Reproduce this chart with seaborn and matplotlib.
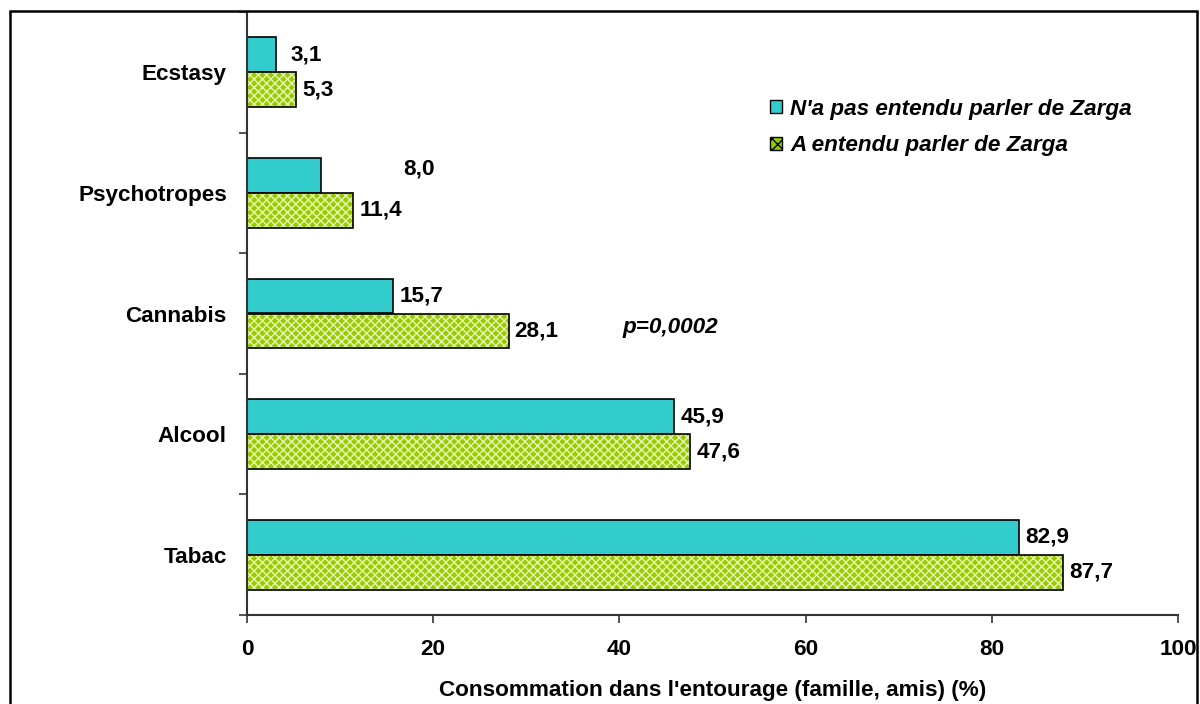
import matplotlib
matplotlib.use("Agg")
import matplotlib.pyplot as plt
from matplotlib.patches import Rectangle
from matplotlib.ticker import FixedLocator, NullFormatter
import seaborn as sns
import pandas as pd

# Substances, top to bottom
substances = ["Ecstasy", "Psychotropes", "Cannabis", "Alcool", "Tabac"]
# Share (%) of people with use in their circle, by group
not_heard = [3.1, 8.0, 15.7, 45.9, 82.9]
heard = [5.3, 11.4, 28.1, 47.6, 87.7]
group_names = ["N'a pas entendu parler de Zarga", "A entendu parler de Zarga"]
xticks = [0, 20, 40, 60, 80, 100]
x_label = "Consommation dans l'entourage (famille, amis) (%)"
p_text = "p=0,0002"

df = pd.DataFrame({
    "substance": substances * 2,
    "value": not_heard + heard,
    "group": [group_names[0]] * len(substances) + [group_names[1]] * len(substances),
})

sns.set_style("white")
plt.rcParams["font.family"] = ["Liberation Sans", "DejaVu Sans"]
plt.rcParams["font.weight"] = "bold"
plt.rcParams["text.color"] = "black"
plt.rcParams["xtick.color"] = "black"
plt.rcParams["ytick.color"] = "black"
plt.rcParams["axes.labelcolor"] = "black"

TEAL = "#33CCCC"
GREEN = "#99CC00"
SPINE = "#333333"
FS = 16.2

fig = plt.figure(figsize=(12, 7.04), dpi=100)
ax = fig.add_axes([247 / 1200, 1 - 615 / 704, (1178 - 247) / 1200, (615 - 12) / 704])

sns.barplot(
    data=df, y="substance", x="value", hue="group", order=substances,
    hue_order=group_names, palette=[TEAL, GREEN], orient="h",
    width=0.58, gap=0, edgecolor="black", linewidth=1.2, saturation=1,
    legend=False, ax=ax,
)

# green bars: light crosshatch pattern inside a black outline
for bar in ax.containers[1]:
    bar.set_hatch("xxxx")
    bar.set_edgecolor("#E8F6B8")
    bar.set_linewidth(0)
    ax.add_patch(Rectangle(bar.get_xy(), bar.get_width(), bar.get_height(),
                           fill=False, edgecolor="black", linewidth=1.2, zorder=bar.get_zorder() + 0.1))

# value labels next to each bar
extra_offset = {(0, 0): 9, (0, 1): 76}
for gi, cont in enumerate(ax.containers):
    for si, bar in enumerate(cont):
        val = bar.get_width()
        off = 6 + extra_offset.get((gi, si), 0)
        dy = 6 if (gi, si) == (0, 1) else 0
        ax.annotate(f"{val:.1f}".replace(".", ","),
                    xy=(val, bar.get_y() + bar.get_height() / 2),
                    xytext=(off, dy), textcoords="offset pixels",
                    ha="left", va="center", fontsize=FS, fontweight="bold")

ax.text(40.3, 2.115, p_text, fontsize=FS, fontweight="bold", fontstyle="italic",
        ha="left", va="center")

ax.set_xlim(0, 100)
ax.set_ylim(4.5, -0.5)
ax.set_xticks(xticks)
ax.set_xticklabels([str(t) for t in xticks], fontsize=FS, fontweight="bold")
ax.set_yticks(range(len(substances)))
ax.set_yticklabels(substances, fontsize=FS, fontweight="bold")
ax.yaxis.set_minor_locator(FixedLocator([i - 0.5 for i in range(len(substances) + 1)]))
ax.yaxis.set_minor_formatter(NullFormatter())
ax.tick_params(left=True, bottom=True, which="both")
ax.tick_params(axis="y", which="major", length=0, pad=14.5)
ax.tick_params(axis="y", which="minor", length=6, width=1.2, color=SPINE, direction="out")
ax.tick_params(axis="x", which="major", length=5.5, width=1.2, color=SPINE, direction="out", pad=12)
ax.set_xlabel(x_label, fontsize=FS, fontweight="bold", labelpad=14)
ax.set_ylabel("")

for side in ["top", "right"]:
    ax.spines[side].set_visible(False)
for side in ["left", "bottom"]:
    ax.spines[side].set_color(SPINE)
    ax.spines[side].set_linewidth(1.5)

# legend
handles = [Rectangle((0, 0), 1, 1, facecolor=TEAL, edgecolor="black", linewidth=1),
           Rectangle((0, 0), 1, 1, facecolor=GREEN, edgecolor="black", linewidth=1, hatch="xxx")]
leg = ax.legend(handles, group_names, loc="upper left", bbox_to_anchor=(0.54, 0.89),
                frameon=False, handlelength=0.55, handleheight=0.55, handletextpad=0.35,
                labelspacing=0.7, prop={"size": FS, "weight": "bold", "style": "italic"})

# chart-area frame
fig.add_artist(Rectangle((10 / 1200, -0.05), (1197 - 10) / 1200, 0.05 + (704 - 11) / 704,
                         transform=fig.transFigure, fill=False, edgecolor="black",
                         linewidth=1.8, clip_on=False))

fig.savefig("out.png", dpi=100)
